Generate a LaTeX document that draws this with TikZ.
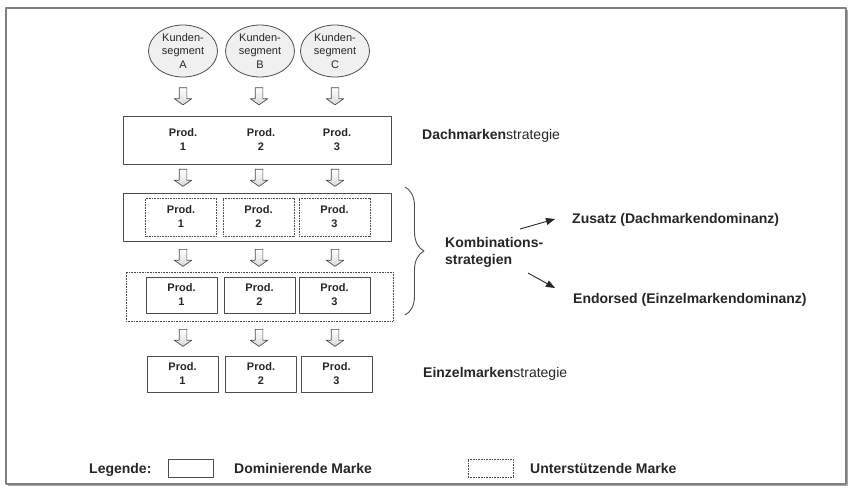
\documentclass[tikz,border=0pt]{standalone}
\usepackage{fontspec}
\setmainfont{Liberation Sans}
\usetikzlibrary{shapes.geometric,shapes.arrows,arrows.meta,decorations.pathreplacing,positioning}
\definecolor{linegray}{gray}{0.3}
\definecolor{textgray}{gray}{0.15}
\definecolor{framegray}{gray}{0.5}
\newcommand\prodfont{\bfseries\fontsize{11}{14}\selectfont}
\newcommand\labelfont{\fontsize{14}{17}\selectfont}
\tikzset{
  segment/.style={ellipse,draw=linegray,line width=0.8pt,fill=gray!12,minimum width=69pt,minimum height=52pt,
    inner sep=0pt,align=center,text=textgray,font=\fontsize{11}{13.5}\selectfont},
  prodtext/.style={inner sep=0pt,align=center,text=textgray,font=\prodfont},
  dombox/.style={prodtext,draw=linegray,line width=0.9pt,minimum width=71pt,minimum height=36pt},
  suppbox/.style={prodtext,draw=linegray,line width=0.7pt,dash pattern=on 0.8pt off 0.8pt,minimum width=71pt,minimum height=38pt},
  downarr/.style={single arrow,draw=linegray,line width=0.7pt,top color=white,bottom color=gray!30,
    rotate=-90,minimum height=17pt,inner xsep=0pt,inner ysep=3.5pt,single arrow head extend=5pt,single arrow tip angle=110},
  strat/.style={inner sep=0pt,anchor=base west,text=textgray,font=\labelfont},
}
\begin{document}
\begin{tikzpicture}[x=1pt,y=-1pt,line join=round,>={Triangle[length=9pt,width=7pt]}]
	\useasboundingbox (0,0) rectangle (850,487);
	% frame
	\draw[framegray,line width=1.4pt] (6,8) rectangle (846,484);
	\draw[gray!70,line width=1pt] (847.5,10) -- (847.5,485.5) -- (8,485.5);
	% customer segments
	\foreach \s/\x in {A/183,B/260,C/335}
	\node[segment] (seg\s) at (\x,51) {Kunden-\\segment\\\s};
	% block arrows
	\foreach \r/\y in {1/95,2/176.5,3/256.5,4/336.5}
	\foreach \c/\x in {1/183,2/259,3/335}
	\node[downarr] (arr\r\c) at (\x,\y) {};
	% Dachmarkenstrategie
	\node[draw=linegray,line width=0.9pt,minimum width=268pt,minimum height=48pt,inner sep=0pt] (dach) at (257,140) {};
	\foreach \i/\x in {1/183,2/261,3/337}
	\node[prodtext] (dach\i) at (\x,140) {Prod.\\\i};
	% Zusatz
	\node[draw=linegray,line width=0.9pt,minimum width=268pt,minimum height=48pt,inner sep=0pt] (zus) at (257,217) {};
	\foreach \i/\x in {1/181,2/258.5,3/334.5}
	\node[suppbox] (zus\i) at (\x,217) {Prod.\\\i};
	% Endorsed
	\node[draw=linegray,line width=0.7pt,dash pattern=on 0.8pt off 0.8pt,minimum width=267pt,minimum height=49pt,inner sep=0pt] (end) at (259.5,296.5) {};
	\foreach \i/\x in {1/181.5,2/259.5,3/334.5}
	\node[dombox] (end\i) at (\x,295) {Prod.\\\i};
	% Einzelmarkenstrategie
	\foreach \i/\x in {1/182.5,2/261,3/336.5}
	\node[dombox] (ein\i) at (\x,374) {Prod.\\\i};
	% labels
	\node[strat] (dachlab) at (422,139.5) {\textbf{Dachmarken}strategie};
	\node[strat] (einlab) at (423,377) {\textbf{Einzelmarken}strategie};
	\draw[linegray,line width=0.9pt,decorate,decoration={brace,amplitude=19pt}] (405,187) -- (405,315);
	\node[inner sep=0pt,anchor=west,align=left,text=textgray,font=\bfseries\labelfont] (kombi) at (445,252) {Kombinations-\\strategien};
	\node[strat,font=\bfseries\labelfont] (zuslab) at (572,223) {Zusatz (Dachmarkendominanz)};
	\node[strat,font=\bfseries\labelfont] (endlab) at (573,303) {Endorsed (Einzelmarkendominanz)};
	\coordinate (zusfrom) at (520,229);
	\coordinate (zusto) at (555,219);
	\coordinate (endfrom) at (528,273);
	\coordinate (endto) at (555,288);
	\draw[->,textgray,line width=0.9pt] (zusfrom) -- (zusto);
	\draw[->,textgray,line width=0.9pt] (endfrom) -- (endto);
	% legend
	\node[strat,font=\bfseries\labelfont] (leg) at (89,473) {Legende:};
	\node[draw=linegray,line width=0.9pt,minimum width=45pt,minimum height=18pt,inner sep=0pt] (legdom) at (190.5,468) {};
	\node[strat,font=\bfseries\labelfont] (legdomlab) at (234,473) {Dominierende Marke};
	\node[draw=linegray,line width=0.7pt,dash pattern=on 0.8pt off 0.8pt,minimum width=45pt,minimum height=18pt,inner sep=0pt] (legsup) at (490.5,468) {};
	\node[strat,font=\bfseries\labelfont] (legsuplab) at (530,473) {Unterstützende Marke};
\end{tikzpicture}
\end{document}
